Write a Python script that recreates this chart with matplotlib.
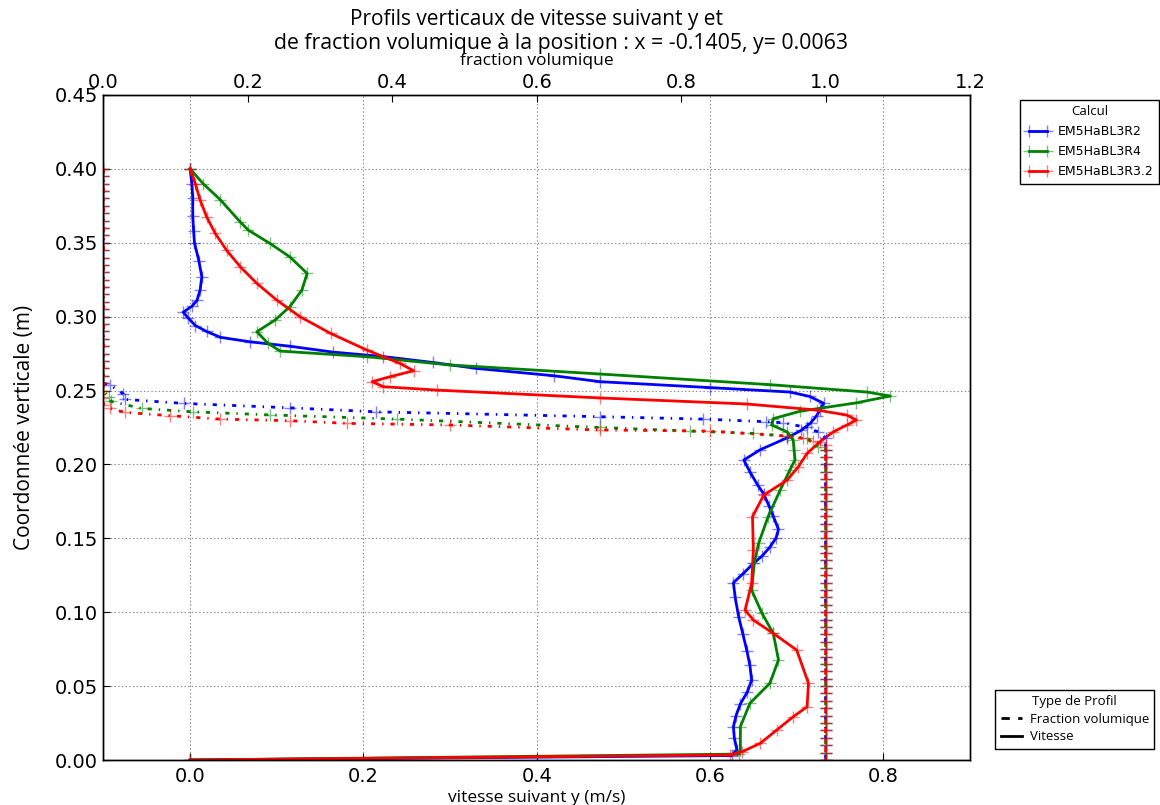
import matplotlib
matplotlib.use("Agg")
import matplotlib.pyplot as plt
from matplotlib.lines import Line2D

plt.rcParams["lines.scale_dashes"] = False

# Velocity profiles (y in m, velocity in m/s)
y_r2 = [0.400, 0.390, 0.380, 0.368, 0.358, 0.350, 0.338, 0.327, 0.318, 0.311,
        0.307, 0.303, 0.299, 0.294, 0.290, 0.286, 0.283, 0.280, 0.276, 0.273,
        0.269, 0.265, 0.260, 0.256, 0.252, 0.249, 0.246, 0.2414, 0.237, 0.233,
        0.228, 0.223, 0.218, 0.210, 0.203, 0.195, 0.186, 0.180, 0.172, 0.165,
        0.156, 0.150, 0.144, 0.138, 0.133, 0.126, 0.120, 0.110, 0.097, 0.085,
        0.074, 0.064, 0.054, 0.046, 0.038, 0.030, 0.0225, 0.015, 0.007, 0.003,
        0.000]
v_r2 = [0.000, 0.002, 0.003, 0.003, 0.004, 0.005, 0.010, 0.0135, 0.0115, 0.008,
        0.002, -0.008, -0.002, 0.006, 0.019, 0.035, 0.069, 0.115, 0.165, 0.223,
        0.280, 0.330, 0.420, 0.473, 0.600, 0.692, 0.715, 0.731, 0.727, 0.723,
        0.716, 0.705, 0.689, 0.658, 0.639, 0.646, 0.655, 0.662, 0.668, 0.673,
        0.679, 0.676, 0.669, 0.660, 0.650, 0.638, 0.627, 0.629, 0.633, 0.638,
        0.6425, 0.646, 0.648, 0.643, 0.635, 0.630, 0.627, 0.628, 0.631, 0.625,
        0.000]

y_r4 = [0.400, 0.390, 0.379, 0.364, 0.3586, 0.3496, 0.3405, 0.3293, 0.318, 0.3067,
        0.2977, 0.2898, 0.2819, 0.2767, 0.2729, 0.2673, 0.2612, 0.254, 0.249, 0.2463,
        0.2417, 0.236, 0.231, 0.2267, 0.222, 0.2165, 0.2097, 0.203, 0.196, 0.1827,
        0.1646, 0.1466, 0.133, 0.115, 0.0992, 0.0857, 0.0677, 0.0519, 0.0384, 0.0225,
        0.0068, 0.004, 0.000]
v_r4 = [0.000, 0.015, 0.035, 0.058, 0.067, 0.092, 0.115, 0.135, 0.129, 0.115,
        0.098, 0.077, 0.090, 0.104, 0.204, 0.300, 0.473, 0.669, 0.781, 0.808,
        0.769, 0.704, 0.673, 0.671, 0.689, 0.696, 0.697, 0.698, 0.692, 0.681,
        0.667, 0.656, 0.651, 0.648, 0.660, 0.673, 0.679, 0.669, 0.646, 0.635,
        0.635, 0.633, 0.000]

y_r32 = [0.400, 0.390, 0.379, 0.3676, 0.3563, 0.345, 0.3337, 0.3225, 0.3112, 0.2999,
         0.2887, 0.2774, 0.2684, 0.2634, 0.2594, 0.256, 0.2526, 0.2503, 0.245, 0.2409,
         0.2368, 0.2334, 0.230, 0.2267, 0.222, 0.2154, 0.2075, 0.1985, 0.1894, 0.1793,
         0.1646, 0.142, 0.1196, 0.1015, 0.0947, 0.0857, 0.0744, 0.0519, 0.036, 0.0293,
         0.0203, 0.0113, 0.0056, 0.0034, 0.000]
v_r32 = [0.000, 0.006, 0.0115, 0.019, 0.029, 0.042, 0.058, 0.077, 0.100, 0.127,
         0.162, 0.204, 0.242, 0.258, 0.231, 0.210, 0.223, 0.285, 0.473, 0.6425,
         0.723, 0.758, 0.769, 0.758, 0.742, 0.727, 0.712, 0.702, 0.689, 0.662,
         0.649, 0.650, 0.648, 0.6405, 0.650, 0.673, 0.700, 0.7136, 0.712, 0.696,
         0.677, 0.658, 0.637, 0.623, 0.000]

# Volume fraction: mesh above the interface (gas) and below it (liquid)
y_gas = [0.400, 0.395, 0.390, 0.385, 0.380, 0.375, 0.370, 0.365, 0.360, 0.355,
         0.350, 0.345, 0.340, 0.335, 0.330, 0.325, 0.320, 0.315, 0.310, 0.305,
         0.300, 0.295, 0.290, 0.285, 0.280, 0.275, 0.270, 0.265, 0.260, 0.255,
         0.250, 0.245, 0.240]
y_liquid = [0.210, 0.205, 0.200, 0.195, 0.190, 0.185, 0.180, 0.175, 0.170, 0.165,
            0.160, 0.155, 0.150, 0.145, 0.140, 0.135, 0.130, 0.125, 0.120, 0.115,
            0.110, 0.105, 0.100, 0.095, 0.090, 0.085, 0.080, 0.075, 0.070, 0.065,
            0.060, 0.055, 0.050, 0.045, 0.040, 0.035, 0.030, 0.025, 0.020, 0.015,
            0.010, 0.005, 0.000]

# Interface transition of the volume fraction for each run
yi_r2 = [0.2537, 0.2480, 0.2440, 0.2413, 0.2383, 0.2356, 0.2323, 0.2307, 0.2289,
         0.2282, 0.2250, 0.2220, 0.2180]
fi_r2 = [0.009, 0.027, 0.030, 0.111, 0.258, 0.378, 0.688, 0.830, 0.918,
         0.941, 0.974, 0.990, 1.000]
yi_r4 = [0.2457, 0.2426, 0.2379, 0.2356, 0.2335, 0.2307, 0.2250, 0.2226, 0.2210,
         0.2192, 0.2176, 0.2120]
fi_r4 = [0.007, 0.011, 0.053, 0.124, 0.231, 0.406, 0.688, 0.812, 0.900,
         0.946, 0.974, 0.990]
yi_r32 = [0.2379, 0.2352, 0.2330, 0.2307, 0.2296, 0.2278, 0.2267, 0.2233, 0.2226,
          0.2192, 0.2176, 0.2160, 0.2130]
fi_r32 = [0.009, 0.030, 0.092, 0.161, 0.258, 0.337, 0.480, 0.688, 0.840,
          0.946, 0.969, 0.983, 1.000]

runs = ["EM5HaBL3R2", "EM5HaBL3R4", "EM5HaBL3R3.2"]
colors = ["#0000ff", "#008000", "#ff0000"]


def fraction_profile(yi, fi):
    top = [y for y in y_gas if y > yi[0] + 0.0005]
    bottom = [y for y in y_liquid if y < yi[-1] - 0.0005]
    ys = top + yi + bottom
    fs = [0.0] * len(top) + fi + [1.0] * len(bottom)
    return fs, ys


def faded(c, a=0.5):
    rgb = matplotlib.colors.to_rgb(c)
    return (rgb[0], rgb[1], rgb[2], a)


fig = plt.figure(figsize=(11.6, 8.05), dpi=100)
ax = fig.add_axes([0.0892, 0.0559, 0.7470, 0.8261])
ax2 = ax.twiny()

vel = [(v_r2, y_r2), (v_r4, y_r4), (v_r32, y_r32)]
frac = [fraction_profile(yi_r2, fi_r2), fraction_profile(yi_r4, fi_r4),
        fraction_profile(yi_r32, fi_r32)]

handles = []
for (v, y), (f, yf), c, name in zip(vel, frac, colors, runs):
    ax2.plot(f, yf, color=c, lw=2, linestyle=(0, (3, 5, 1, 5)), marker="+",
             ms=8, mew=1, mec=faded(c))
    h, = ax.plot(v, y, color=c, lw=2, marker="+", ms=8, mew=1, mec=faded(c),
                 label=name)
    handles.append(h)

ax.set_xlim(-0.1, 0.9)
ax.set_ylim(0, 0.45)
ax2.set_xlim(0, 1.2)
ax2.set_ylim(0, 0.45)

ax.set_xticks([0.0, 0.2, 0.4, 0.6, 0.8])
ax.set_xticklabels(["0.0", "0.2", "0.4", "0.6", "0.8"])
ax.set_yticks([0.0, 0.05, 0.10, 0.15, 0.20, 0.25, 0.30, 0.35, 0.40, 0.45])
ax.set_yticklabels(["0.00", "0.05", "0.10", "0.15", "0.20", "0.25", "0.30",
                    "0.35", "0.40", "0.45"])
ax2.set_xticks([0.0, 0.2, 0.4, 0.6, 0.8, 1.0, 1.2])
ax2.set_xticklabels(["0.0", "0.2", "0.4", "0.6", "0.8", "1.0", "1.2"])

ax.tick_params(axis="both", direction="in", labelsize=14, length=5)
ax.tick_params(axis="x", pad=5)
ax.tick_params(axis="y", pad=4)
ax2.tick_params(axis="x", direction="in", labelsize=14, length=5, pad=2)

ax.grid(True, linestyle=":", color="#888888", linewidth=0.8)
for a in (ax, ax2):
    for s in a.spines.values():
        s.set_color("black")
        s.set_linewidth(1.0)

label_font = "Open Sans"
ax.set_xlabel("vitesse suivant y (m/s)", fontsize=12.5, family=label_font, labelpad=3)
ax.set_ylabel("Coordonnée verticale (m)", fontsize=15, family=label_font, labelpad=14)
ax2.set_xlabel("fraction volumique", fontsize=12.5, family=label_font, labelpad=6)

# Two-line title
fig.text(0.4621, 1 - 20 / 805, "Profils verticaux de vitesse suivant y et",
         ha="center", va="center", fontsize=15, family=label_font)
fig.text(0.4836, 1 - 44 / 805,
         "de fraction volumique à la position : x = -0.1405, y= 0.0063",
         ha="center", va="center", fontsize=15.3, family=label_font)

leg1 = fig.legend(handles=handles, loc="upper left", bbox_to_anchor=(0.879, 0.876),
                  title="Calcul", fontsize=9, title_fontsize=9.5, fancybox=False,
                  framealpha=1, edgecolor="black", borderaxespad=0, numpoints=2,
                  handlelength=2.0, borderpad=0.45, labelspacing=0.55,
                  handletextpad=0.6)
leg1.get_title().set_family(label_font)

type_handles = [Line2D([], [], color="black", lw=2, linestyle=(0, (6, 6))),
                Line2D([], [], color="black", lw=2, linestyle="-")]
leg2 = fig.legend(handles=type_handles, labels=["Fraction volumique", "Vitesse"],
                  loc="upper left", bbox_to_anchor=(0.858, 0.143),
                  title="Type de Profil", title_fontsize=9.5,
                  fancybox=False, framealpha=1, edgecolor="black",
                  borderaxespad=0, prop={"family": label_font, "size": 9.5},
                  handlelength=1.6, handletextpad=0.6, borderpad=0.4,
                  labelspacing=0.35)
leg2.get_title().set_family(label_font)

fig.savefig("out.png", dpi=100)
